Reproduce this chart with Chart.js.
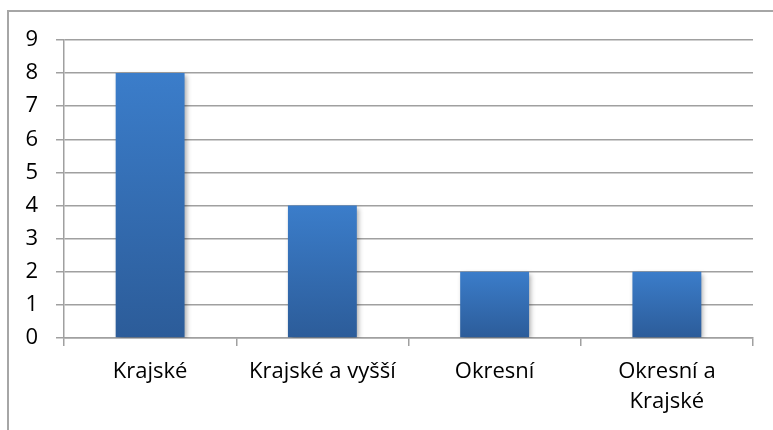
<!DOCTYPE html>
<html>
<head>
<meta charset="utf-8">
<script src="https://cdn.jsdelivr.net/npm/chart.js@4.4.1/dist/chart.umd.min.js"></script>
<style>
  html, body { margin: 0; padding: 0; background: #fff; }
  #wrap { width: 773px; height: 430px; position: relative; }
</style>
</head>
<body>
<div id="wrap"><canvas id="chart" width="773" height="430"></canvas></div>
<script>
const categories = ["Krajské", "Krajské a vyšší", "Okresní", ["Okresní a", "Krajské"]];
const counts = [8, 4, 2, 2];
const yTicks = [0, 1, 2, 3, 4, 5, 6, 7, 8, 9];

const gridColor = "#a0a0a0";

// outer frame of the chart object (top and left edges are visible)
const framePlugin = {
  id: "frame",
  beforeDraw(chart) {
    const c = chart.ctx;
    c.save();
    c.strokeStyle = "#a6a6a6";
    c.lineWidth = 2;
    c.beginPath();
    c.moveTo(8, 430);
    c.lineTo(8, 11);
    c.lineTo(773, 11);
    c.stroke();
    c.restore();
  }
};

// soft shadow under the bars
const shadowPlugin = {
  id: "barShadow",
  beforeDatasetsDraw(chart) {
    const c = chart.ctx;
    c.save();
    c.shadowColor = "rgba(0,0,0,0.35)";
    c.shadowBlur = 5;
    c.shadowOffsetX = 2;
    c.shadowOffsetY = 2;
  },
  afterDatasetsDraw(chart) {
    chart.ctx.restore();
  }
};

const barGradient = (context) => {
  const { ctx, chartArea, scales } = context.chart;
  if (!chartArea || !scales.y) return "#3a7cc8";
  const top = scales.y.getPixelForValue(context.raw);
  const bottom = scales.y.getPixelForValue(0);
  if (!isFinite(top) || !isFinite(bottom) || top === bottom) return "#3a7cc8";
  const g = ctx.createLinearGradient(0, top, 0, bottom);
  g.addColorStop(0, "#3b7dca");
  g.addColorStop(1, "#2c5c99");
  return g;
};

const labelFont = { family: "'Open Sans', sans-serif", size: 22, lineHeight: 1.4 };

new Chart(document.getElementById("chart"), {
  type: "bar",
  data: {
    labels: categories,
    datasets: [{
      data: counts,
      backgroundColor: barGradient,
      borderWidth: 0,
      categoryPercentage: 0.8,
      barPercentage: 0.5
    }]
  },
  options: {
    responsive: false,
    animation: false,
    layout: { padding: { left: 10, top: 40, right: 20, bottom: 0 } },
    plugins: {
      legend: { display: false },
      tooltip: { enabled: false }
    },
    scales: {
      y: {
        min: 0,
        max: 9,
        afterBuildTicks(axis) {
          axis.ticks = yTicks.map((v) => ({ value: v }));
        },
        afterFit(axis) { axis.width = 54; },
        border: { color: gridColor, width: 1.5 },
        grid: { color: gridColor, lineWidth: 1.5, tickLength: 8 },
        ticks: {
          color: "#000",
          padding: 18,
          autoSkip: false,
          font: { family: "'Open Sans', sans-serif", size: 22, lineHeight: 1 }
        }
      },
      x: {
        afterFit(axis) { axis.height = 92; },
        border: { color: gridColor, width: 1.5 },
        grid: {
          offset: true,
          drawOnChartArea: false,
          drawTicks: true,
          tickLength: 8,
          color: gridColor,
          lineWidth: 1.5
        },
        ticks: {
          color: "#000",
          padding: 10,
          maxRotation: 0,
          autoSkip: false,
          font: labelFont
        }
      }
    }
  },
  plugins: [framePlugin, shadowPlugin]
});
</script>
</body>
</html>
